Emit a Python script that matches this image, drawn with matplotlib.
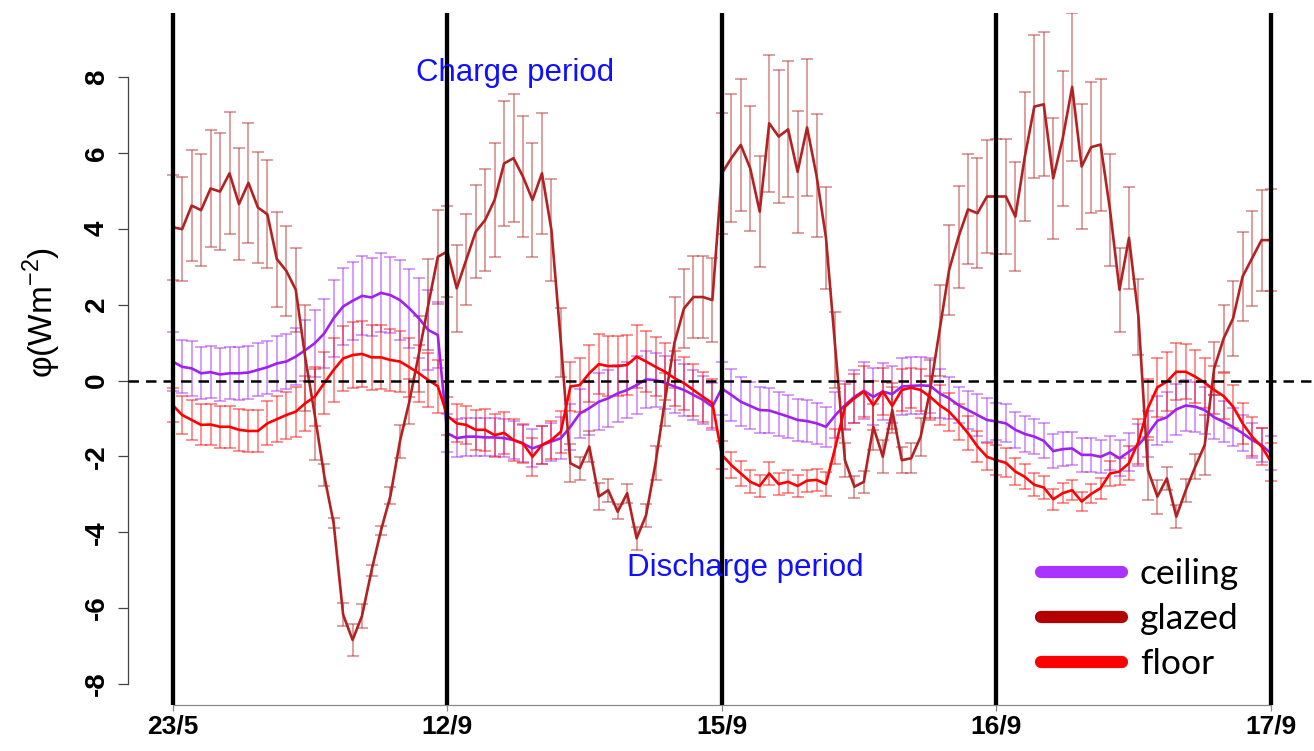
import numpy as np
import matplotlib
matplotlib.use("Agg")
import matplotlib.pyplot as plt
from matplotlib.lines import Line2D

plt.rcParams['axes.unicode_minus'] = False

# ---------------- data ----------------
day_labels = ["23/5", "12/9", "15/9", "16/9", "17/9"]
day_bounds = [0, 29, 58, 87, 116]

glazed = [4.04, 3.99, 4.61, 4.49, 5.06, 4.98, 5.46, 4.65, 5.21, 4.56, 4.38, 3.20, 2.89, 2.39, 0.6, -0.9,
          -2.5, -3.76, -6.17, -6.84, -6.2, -5.01, -3.95, -3.04, -1.6, -0.55, 0.7, 2.0, 3.26,
          3.4, 2.43, 3.18, 3.92, 4.23, 4.76, 5.72, 5.86, 5.37, 4.76, 5.46, 3.97, 1.0, -2.18, -2.31,
          -1.74, -3.06, -2.89, -3.46, -2.97, -4.16, -3.55, -2.18, -0.5, 1.0, 1.9, 2.2, 2.2, 2.12,
          5.46, 5.86, 6.21, 5.59, 4.45, 6.78, 6.43, 6.62, 5.5, 6.67, 5.4, 3.76, 0.8, -2.1, -2.8,
          -2.67, -1.22, -2.01, -0.78, -2.1, -2.05, -1.48, -0.25, 1.33, 2.91, 3.79, 4.51, 4.41, 4.85,
          4.85, 4.85, 4.32, 5.9, 7.22, 7.28, 5.33, 6.38, 7.74, 5.64, 6.15, 6.22, 4.49, 2.39, 3.76,
          1.68, -2.36, -3.06, -2.58, -3.59, -2.89, -2.27, -1.7, 0.32, 1.11, 1.64, 2.74, 3.22, 3.7, 3.7]
glazed_err = [1.38, 1.38, 1.47, 1.47, 1.53, 1.54, 1.61, 1.48, 1.58, 1.45, 1.42, 1.25, 1.19, 1.1, 1.4, 1.2,
              0.29, 0.13, 0.3, 0.42, 0.32, 0.15, 0.12, 0.22, 0.44, 0.6, 1.0, 1.2, 1.24,
              1.2, 1.14, 1.2, 1.23, 1.35, 1.5, 1.64, 1.68, 1.6, 1.5, 1.6, 1.34, 0.9, 0.5, 0.3,
              0.4, 0.35, 0.3, 0.2, 0.25, 0.3, 0.3, 0.45, 0.7, 1.2, 1.05, 1.08, 1.07, 1.1,
              1.6, 1.69, 1.73, 1.64, 1.47, 1.81, 1.75, 1.79, 1.6, 1.8, 1.62, 1.35, 1.0, 0.44, 0.29,
              0.29, 0.6, 0.44, 0.6, 0.35, 0.4, 0.5, 0.8, 1.2, 1.18, 1.34, 1.45, 1.45, 1.5,
              1.52, 1.52, 1.44, 1.7, 1.88, 1.9, 1.6, 1.79, 1.95, 1.64, 1.73, 1.74, 1.48, 1.1, 1.35,
              1.0, 0.8, 0.45, 0.3, 0.3, 0.3, 0.33, 0.8, 0.7, 0.88, 0.99, 1.18, 1.26, 1.33, 1.34]

ceiling = [0.5, 0.36, 0.32, 0.19, 0.22, 0.16, 0.19, 0.19, 0.21, 0.28, 0.35, 0.45, 0.5, 0.63, 0.8, 0.98,
           1.24, 1.64, 1.95, 2.1, 2.23, 2.19, 2.31, 2.25, 2.12, 1.9, 1.64, 1.33, 1.2,
           -1.39, -1.52, -1.48, -1.48, -1.5, -1.5, -1.52, -1.57, -1.66, -1.79, -1.7, -1.61, -1.52,
           -1.22, -0.87, -0.73, -0.56, -0.47, -0.34, -0.25, -0.12, 0.03, 0.01, -0.06, -0.16, -0.25,
           -0.38, -0.51, -0.69,
           -0.21, -0.38, -0.56, -0.67, -0.78, -0.79, -0.87, -0.95, -1.04, -1.07, -1.13, -1.22, -0.91,
           -0.65, -0.43, -0.27, -0.43, -0.29, -0.36, -0.16, -0.14, -0.13, -0.14, -0.34, -0.47, -0.65,
           -0.78, -0.91, -1.04,
           -1.08, -1.13, -1.3, -1.41, -1.48, -1.59, -1.86, -1.81, -1.79, -1.96, -1.96, -2.01, -1.9,
           -2.05, -1.88, -1.7, -1.41, -1.06, -0.97, -0.76, -0.66, -0.69, -0.78, -0.97, -1.09, -1.23,
           -1.39, -1.57, -1.7, -1.92]
ceiling_err = [0.78, 0.7, 0.72, 0.69, 0.69, 0.69, 0.69, 0.7, 0.71, 0.7, 0.7, 0.72, 0.73, 0.75, 0.8, 0.88,
               0.9, 1.01, 1.01, 1.03, 1.04, 1.03, 1.04, 1.01, 1.05, 1.05, 1.05, 1.05, 0.88,
               0.5, 0.5, 0.5, 0.5, 0.5, 0.5, 0.5, 0.5, 0.5, 0.5, 0.5, 0.5, 0.55, 0.6, 0.65, 0.7,
               0.75, 0.75, 0.75, 0.75, 0.77, 0.75, 0.72, 0.7, 0.7, 0.68, 0.66, 0.64, 0.62,
               0.7, 0.68, 0.65, 0.62, 0.6, 0.59, 0.58, 0.57, 0.56, 0.55, 0.55, 0.53, 0.6, 0.65, 0.7,
               0.75, 0.75, 0.75, 0.75, 0.75, 0.75, 0.74, 0.72, 0.65, 0.55, 0.48, 0.5, 0.55, 0.57,
               0.5, 0.5, 0.48, 0.47, 0.46, 0.46, 0.45, 0.45, 0.44, 0.44, 0.44, 0.44, 0.45, 0.47, 0.5,
               0.55, 0.6, 0.65, 0.66, 0.68, 0.67, 0.66, 0.62, 0.58, 0.54, 0.5, 0.48, 0.46, 0.45, 0.45]

floor = [-0.65, -0.91, -1.04, -1.17, -1.16, -1.22, -1.22, -1.3, -1.33, -1.33, -1.13, -1.02, -0.91, -0.82,
         -0.6, -0.43, -0.07, 0.28, 0.58, 0.67, 0.7, 0.61, 0.61, 0.54, 0.5, 0.35, 0.19, 0.01, -0.15,
         -0.93, -1.13, -1.17, -1.3, -1.3, -1.44, -1.38, -1.57, -1.66, -2.01, -1.7, -1.57, -1.35,
         -0.16, -0.12, 0.19, 0.43, 0.38, 0.38, 0.41, 0.63, 0.5, 0.36, 0.23, 0.06, -0.07, -0.25,
         -0.43, -0.6,
         -1.96, -2.23, -2.45, -2.67, -2.78, -2.45, -2.73, -2.67, -2.78, -2.64, -2.62, -2.73, -1.74,
         -0.69, -0.47, -0.29, -0.65, -0.29, -0.67, -0.25, -0.19, -0.25, -0.43, -0.65, -0.82, -1.09,
         -1.39, -1.74, -2.01,
         -2.1, -2.17, -2.4, -2.54, -2.75, -2.82, -3.13, -2.97, -2.89, -3.19, -2.99, -2.84, -2.45,
         -2.4, -2.18, -1.61, -0.73, -0.18, -0.03, 0.23, 0.23, 0.1, -0.06, -0.25, -0.41, -0.69,
         -1.13, -1.48, -1.74, -2.14]
floor_err = [0.44, 0.5, 0.52, 0.54, 0.55, 0.55, 0.55, 0.55, 0.55, 0.55, 0.58, 0.6, 0.62, 0.66, 0.72,
             0.78, 0.82, 0.85, 0.85, 0.86, 0.86, 0.85, 0.84, 0.82, 0.8, 0.78, 0.75, 0.72, 0.7,
             0.5, 0.5, 0.5, 0.52, 0.55, 0.57, 0.55, 0.55, 0.52, 0.5, 0.5, 0.5, 0.55, 0.65, 0.7,
             0.75, 0.79, 0.8, 0.8, 0.8, 0.83, 0.8, 0.78, 0.75, 0.72, 0.7, 0.68, 0.66, 0.64,
             0.37, 0.35, 0.32, 0.3, 0.29, 0.3, 0.3, 0.3, 0.3, 0.29, 0.3, 0.32, 0.45, 0.6, 0.65,
             0.68, 0.65, 0.62, 0.6, 0.55, 0.53, 0.55, 0.55, 0.52, 0.5, 0.48, 0.45, 0.4, 0.35,
             0.4, 0.38, 0.35, 0.33, 0.3, 0.3, 0.28, 0.27, 0.26, 0.24, 0.25, 0.28, 0.32, 0.35, 0.45,
             0.6, 0.77, 0.78, 0.77, 0.75, 0.72, 0.7, 0.66, 0.62, 0.6, 0.57, 0.55, 0.52, 0.5, 0.5]

series_names = ["ceiling", "glazed", "floor"]
series_vals = [ceiling, glazed, floor]
series_errs = [ceiling_err, glazed_err, floor_err]
line_colors = ["#A020F0", "#B22222", "#FF0000"]
legend_colors = ["#AA33FF", "#B40000", "#FF0000"]

# ---------------- figure ----------------
W, H = 1314, 751
fig = plt.figure(figsize=(W / 100, H / 100), dpi=100)
ax = fig.add_axes([128 / W, 1 - 705 / H, 1 - 128 / W, (705 - 12.5) / H])

x = np.arange(len(glazed))

for vals, errs, col in zip(series_vals, series_errs, line_colors):
    ax.errorbar(x, vals, yerr=errs, fmt='none', ecolor=col, alpha=0.55,
                elinewidth=1.1, capsize=4.2, capthick=1.1, zorder=2)
for name, vals, col in zip(series_names, series_vals, line_colors):
    ax.plot(x, vals, color=col, lw=1.9, zorder=3)

for b in day_bounds:
    ax.axvline(b, color='black', lw=3.1, zorder=4)
ax.axhline(0, color='black', lw=1.8, ls=(0, (4.2, 2.8)), zorder=4)

px_per_x = (1271 - 172.7) / 116
ax.set_xlim(-(172.7 - 128) / px_per_x, 116 + (1314 - 1271) / px_per_x)
px_per_y = (684 - 77) / 16
ax.set_ylim(-8 - (705 - 684) / px_per_y, 8 + (77 - 12.5) / px_per_y)

for s in ['top', 'right']:
    ax.spines[s].set_visible(False)
ax.spines['left'].set_bounds(-8, 8)
ax.spines['left'].set_color('#444444')
ax.spines['left'].set_linewidth(0.9)
ax.spines['bottom'].set_bounds(0, 116)
ax.spines['bottom'].set_color('#888888')
ax.spines['bottom'].set_linewidth(0.9)

ax.set_yticks(np.arange(-8, 9, 2))
ax.set_yticklabels([str(v) for v in range(-8, 9, 2)], rotation=90, va='center',
                   fontsize=20, fontweight='bold', family='Liberation Sans')
ax.tick_params(axis='y', length=7, width=0.9, color='#444444', pad=6)
ax.set_xticks(day_bounds)
ax.set_xticklabels(day_labels, fontsize=19, fontweight='bold', family='Liberation Sans')
ax.tick_params(axis='x', length=4, width=0.9, color='#888888', pad=3)

fig.text(42 / W, 1 - 312 / H, 'φ(Wm$^{\\mathregular{-2}}$)', rotation=90, ha='center', va='center',
         fontsize=24, family='Liberation Sans')

fig.text(515 / W, 1 - 73 / H, "Charge period", color='#1010FF', fontsize=22.5,
         family='Liberation Sans', ha='center', va='center')
fig.text(745 / W, 1 - 568 / H, "Discharge period", color='#1010FF', fontsize=22.5,
         family='Liberation Sans', ha='center', va='center')

handles = [Line2D([0], [0], color=c, lw=8.8, solid_capstyle='round') for c in legend_colors]
leg = ax.legend(handles, series_names, loc='upper left',
                bbox_to_anchor=(1041 / W, 1 - 558 / H), bbox_transform=fig.transFigure,
                frameon=False, handlelength=2.29, handletextpad=0.5,
                labelspacing=0.37, borderpad=0, borderaxespad=0,
                prop={'family': 'Lato', 'size': 25.5})

fig.savefig("out.png", dpi=100)
